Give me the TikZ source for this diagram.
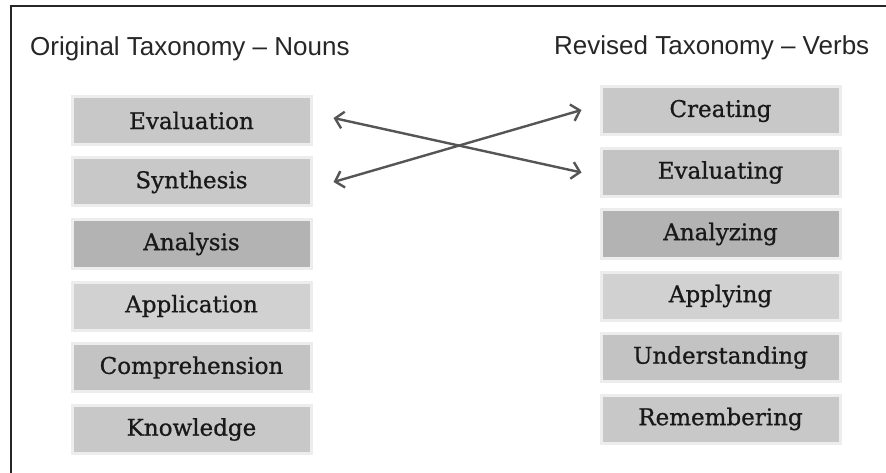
\documentclass[tikz,border=0pt]{standalone}
\usepackage{fontspec}
\setmainfont{Liberation Sans}
\newfontfamily\boxfont[UprightFeatures={FakeBold=0.8}]{DejaVu Serif}
\usetikzlibrary{arrows.meta}
\definecolor{boxA}{HTML}{C8C8C8}
\definecolor{boxB}{HTML}{C3C3C3}
\definecolor{boxC}{HTML}{B3B3B3}
\definecolor{boxD}{HTML}{D1D1D1}
\definecolor{glow}{HTML}{EDEDED}
\definecolor{arrowgray}{HTML}{555555}
\tikzset{
  level/.style={minimum width=239pt, minimum height=48pt, inner sep=0pt,
    draw=glow, line width=3pt, font=\boxfont\fontsize{23}{26}\selectfont, text=black!90},
  title/.style={font=\fontsize{26}{29}\selectfont, text=black!85, inner sep=0pt, anchor=base west},
  arr/.style={draw=arrowgray, line width=2.4pt, {Straight Barb[length=8pt,width=17pt]}-{Straight Barb[length=8pt,width=17pt]}}
}
\begin{document}
\begin{tikzpicture}[x=1pt,y=-1pt]
\useasboundingbox[fill=white] (0,0) rectangle (886,473);
\draw[line width=1.5pt, black!85] (11,473) -- (11,6) -- (886,6);
\node[title] (t1) at (30,56) {Original Taxonomy – Nouns};
\node[title] (t2) at (554,55) {Revised Taxonomy – Verbs};
% left column
\node[level, fill=boxA] (ev)  at (191.5,120.5) {Evaluation};
\node[level, fill=boxA] (syn) at (191.5,182)   {Synthesis};
\node[level, fill=boxC] (ana) at (191.5,244)   {Analysis};
\node[level, fill=boxD] (app) at (191.5,306)   {Application};
\node[level, fill=boxB] (com) at (191.5,367.5) {Comprehension};
\node[level, fill=boxA] (kno) at (191.5,429.5) {Knowledge};
% right column
\node[level, fill=boxA] (cre) at (720.5,111)   {Creating};
\node[level, fill=boxB] (evg) at (720.5,172.5) {Evaluating};
\node[level, fill=boxC] (anz) at (720.5,234)   {Analyzing};
\node[level, fill=boxD] (apg) at (720.5,296)   {Applying};
\node[level, fill=boxB] (und) at (720.5,357.5) {Understanding};
\node[level, fill=boxA] (rem) at (720.5,419)   {Remembering};
% arrows
\draw[arr] ([xshift=21pt,yshift=2.5pt]ev.east) -- ([xshift=-18pt]evg.west);
\draw[arr] ([xshift=21pt]syn.east) -- ([xshift=-18pt,yshift=1pt]cre.west);
\end{tikzpicture}
\end{document}
